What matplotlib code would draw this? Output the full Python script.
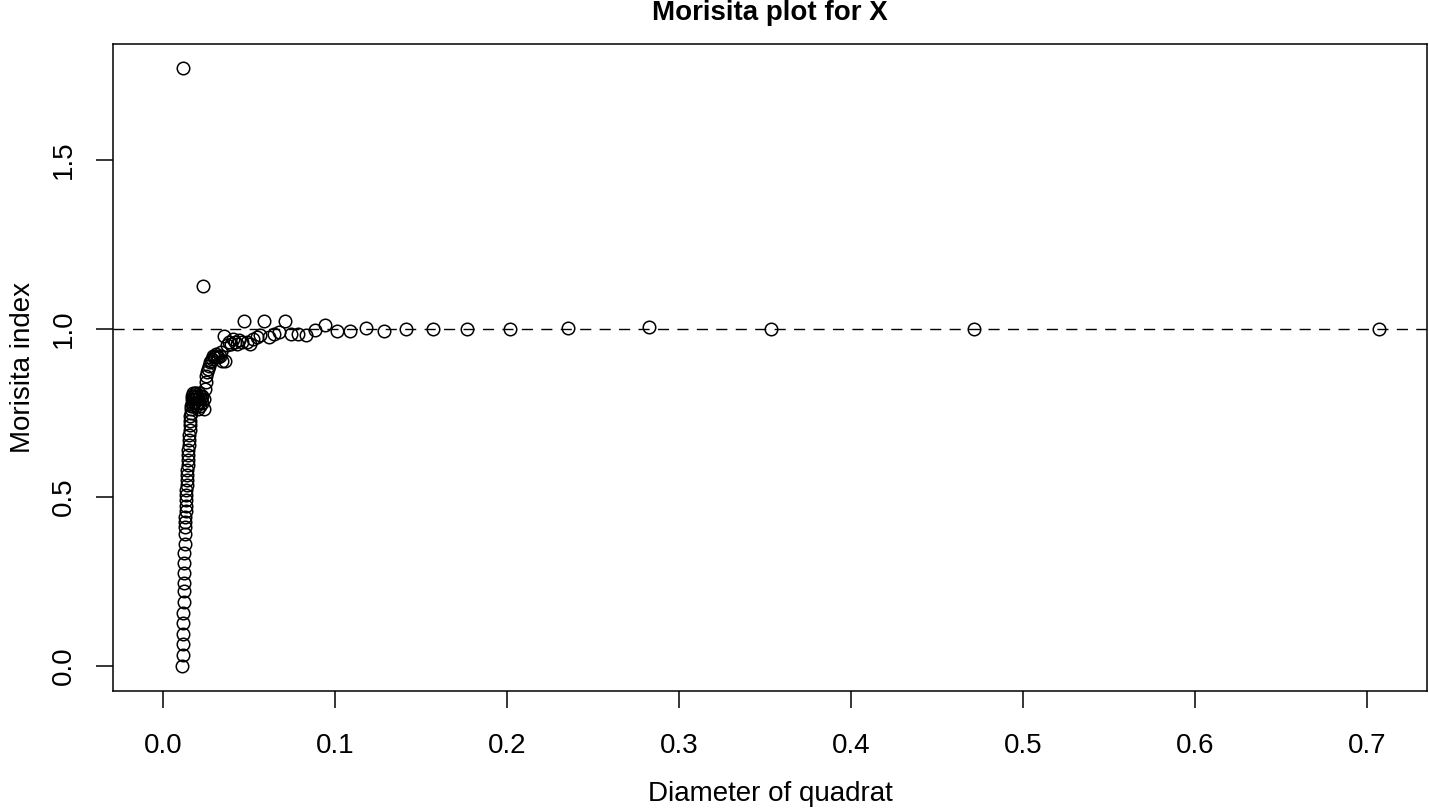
import matplotlib
matplotlib.use('Agg')
import matplotlib.pyplot as plt

# Morisita plot data
diameter = [
    0.01122, 0.01131, 0.01140, 0.01150, 0.01159, 0.01169, 0.01179, 0.01188, 0.01198, 0.01209,
    0.01219, 0.01230, 0.01241, 0.01252, 0.01263, 0.01274, 0.01286, 0.01297, 0.01309, 0.01322,
    0.01334, 0.01347, 0.01360, 0.01373, 0.01386, 0.01400, 0.01414, 0.01429, 0.01443, 0.01458,
    0.01473, 0.01489, 0.01504, 0.01521, 0.01537, 0.01554, 0.01571, 0.01589, 0.01607, 0.01626,
    0.01644, 0.01664, 0.01684, 0.01704, 0.01725, 0.01746, 0.01768, 0.01790, 0.01813, 0.01837,
    0.01861, 0.01886, 0.01911, 0.01937, 0.01964, 0.01992, 0.02020, 0.02050, 0.02080, 0.02111,
    0.02143, 0.02176, 0.02210, 0.02245, 0.02281, 0.02318, 0.02357, 0.02397, 0.02438, 0.02481,
    0.02525, 0.02571, 0.02619, 0.02668, 0.02720, 0.02773, 0.02828, 0.02886, 0.02946, 0.03009,
    0.03074, 0.03143, 0.03214, 0.03289, 0.03367, 0.03449, 0.03536, 0.03626, 0.03722, 0.03822,
    0.03928, 0.04041, 0.04159, 0.04286, 0.04419, 0.04562, 0.04714, 0.04877, 0.05051, 0.05238,
    0.05439, 0.05657, 0.05893, 0.06149, 0.06428, 0.06734, 0.07071, 0.07443, 0.07857, 0.08319,
    0.08839, 0.09428, 0.10102, 0.10879, 0.11785, 0.12856, 0.14142, 0.15713, 0.17678, 0.20203,
    0.23570, 0.28284, 0.35355, 0.47140, 0.70711,
]
morisita = [
    0.000, 1.774, 0.032, 0.064, 0.094, 0.127, 0.157, 0.190, 0.220, 0.245,
    0.275, 0.305, 0.335, 0.360, 0.390, 0.410, 0.425, 0.440, 0.460, 0.475,
    0.490, 0.505, 0.520, 0.535, 0.550, 0.565, 0.580, 0.595, 0.610, 0.625,
    0.640, 0.655, 0.670, 0.685, 0.700, 0.715, 0.725, 0.740, 0.750, 0.760,
    0.770, 0.780, 0.790, 0.800, 0.810, 0.770, 0.790, 0.800, 0.780, 0.810,
    0.800, 0.770, 0.790, 0.810, 0.780, 0.800, 0.760, 0.790, 0.810, 0.780,
    0.800, 0.770, 0.790, 0.800, 0.780, 1.127, 0.760, 0.790, 0.820, 0.840,
    0.860, 0.870, 0.880, 0.890, 0.900, 0.905, 0.910, 0.920, 0.915, 0.920,
    0.925, 0.920, 0.915, 0.920, 0.930, 0.905, 0.979, 0.905, 0.950, 0.960,
    0.955, 0.970, 0.960, 0.955, 0.965, 0.960, 1.021, 0.960, 0.955, 0.970,
    0.975, 0.980, 1.021, 0.975, 0.985, 0.990, 1.021, 0.985, 0.985, 0.981,
    0.996, 1.011, 0.993, 0.993, 1.003, 0.993, 0.998, 0.998, 0.998, 0.998,
    1.003, 1.006, 0.998, 0.999, 0.999,
]
x_ticks = [0.0, 0.1, 0.2, 0.3, 0.4, 0.5, 0.6, 0.7]
y_ticks = [0.0, 0.5, 1.0, 1.5]

plt.rcParams['font.family'] = ['Liberation Sans', 'DejaVu Sans']

fig = plt.figure(figsize=(14.29, 8.09), dpi=100)
ax = fig.add_axes([0.0791, 0.1459, 0.9195, 0.8003])

ax.plot(diameter, morisita, linestyle='none', marker='o', markersize=9,
        markerfacecolor='none', markeredgecolor='black', markeredgewidth=1.1)
ax.axhline(1.0, color='black', linewidth=1.0, linestyle=(0, (8, 6)))

ax.set_xlim(-0.0291, 0.735)
ax.set_ylim(-0.0752, 1.8456)
ax.set_xticks(x_ticks)
ax.set_yticks(y_ticks)
ax.set_xticklabels([f'{t:.1f}' for t in x_ticks])
ax.set_yticklabels([f'{t:.1f}' for t in y_ticks], rotation=90, va='center')

ax.tick_params(axis='both', length=12, width=1.1, labelsize=20, direction='out')
ax.tick_params(axis='x', pad=18)
ax.tick_params(axis='y', pad=14)
for s in ax.spines.values():
    s.set_linewidth(1.1)

ax.set_title('Morisita plot for X', fontsize=20, fontweight='bold', pad=17)
ax.set_xlabel('Diameter of quadrat', fontsize=20, labelpad=16)
ax.set_ylabel('Morisita index', fontsize=20, labelpad=11)

fig.savefig('out.png', dpi=100)
